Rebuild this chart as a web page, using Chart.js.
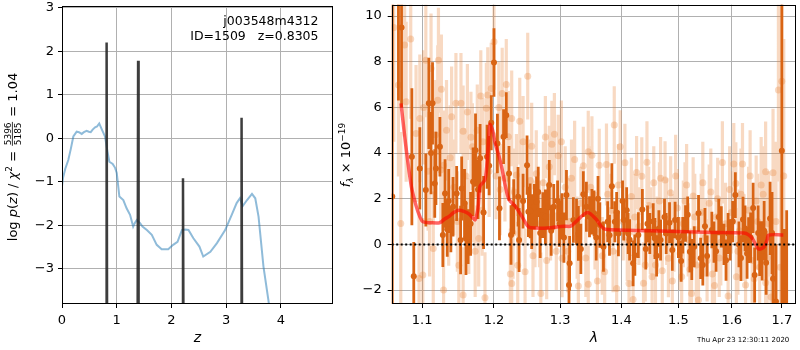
<!DOCTYPE html>
<html>
<head>
<meta charset="utf-8">
<script src="https://cdn.jsdelivr.net/npm/chart.js@4.4.1/dist/chart.umd.min.js"></script>
<style>
  html, body { margin: 0; padding: 0; background: #fff; }
  #wrap { position: relative; width: 800px; height: 350px; }
  #pz { position: absolute; left: 0; top: 0; }
  #spec { position: absolute; left: 335px; top: 0; }
</style>
</head>
<body>
<div id="wrap">
  <canvas id="pz" width="335" height="350" style="width:335px;height:350px"></canvas>
  <canvas id="spec" width="465" height="350" style="width:465px;height:350px"></canvas>
</div>
<script>
// ---- left panel: redshift probability ----
const pzZ = [0, 0.02, 0.06, 0.115, 0.16, 0.207, 0.268, 0.31, 0.36, 0.40,
  0.45, 0.49, 0.525, 0.56, 0.604, 0.64, 0.68, 0.725, 0.786, 0.83,
  0.865, 0.926, 0.97, 1.0, 1.048, 1.12, 1.18, 1.243, 1.30, 1.33,
  1.366, 1.40, 1.426, 1.47, 1.55, 1.64, 1.73, 1.82, 1.94, 2.03,
  2.11, 2.19, 2.25, 2.31, 2.40, 2.51, 2.58, 2.71, 2.83, 2.98,
  3.10, 3.19, 3.25, 3.30, 3.38, 3.47, 3.53, 3.59, 3.68, 3.77, 3.85];
const pzLog = [-1.1, -0.9, -0.7, -0.5, -0.25, 0.04, 0.15, 0.14, 0.10, 0.14,
  0.17, 0.15, 0.14, 0.2, 0.25, 0.27, 0.34, 0.21, 0.04, -0.3,
  -0.54, -0.59, -0.68, -0.80, -1.34, -1.42, -1.61, -1.76, -2.03, -1.95,
  -1.88, -1.92, -1.95, -2.03, -2.11, -2.22, -2.45, -2.55, -2.55, -2.45,
  -2.38, -2.11, -2.10, -2.11, -2.30, -2.49, -2.72, -2.61, -2.41, -2.11,
  -1.76, -1.49, -1.38, -1.56, -1.42, -1.28, -1.38, -1.80, -2.95, -3.72, -4.5];
// narrow peaks of the fit p(z)
const spikeZ = [0.815, 1.39, 2.21, 3.28];
const spikePeak = [2.20, 1.78, -0.92, 0.47];
const zTicks = [0, 1, 2, 3, 4];
const logTicks = [-3, -2, -1, 0, 1, 2, 3];

// ---- right panel: spectrum ----
const darkWave = [1.061, 1.069, 1.073, 1.0865, 1.089, 1.097, 1.105, 1.109, 1.114, 1.117,
  1.124, 1.128, 1.131, 1.134, 1.139, 1.142, 1.147, 1.154, 1.160, 1.163,
  1.170, 1.1735, 1.177, 1.180, 1.185, 1.190, 1.193, 1.196, 1.200, 1.205,
  1.208, 1.214, 1.218, 1.222, 1.225, 1.229, 1.237, 1.243, 1.249, 1.251,
  1.256, 1.260, 1.266, 1.273, 1.277, 1.281, 1.286, 1.290, 1.296, 1.303,
  1.310, 1.314, 1.315, 1.321, 1.329, 1.337, 1.342, 1.347, 1.351, 1.358,
  1.364, 1.370, 1.377, 1.384, 1.389, 1.395, 1.402, 1.409, 1.414, 1.420,
  1.423, 1.429, 1.436, 1.442, 1.449, 1.455, 1.461, 1.468, 1.475, 1.484,
  1.489, 1.494, 1.500, 1.505, 1.513, 1.521, 1.529, 1.537, 1.545, 1.553,
  1.562, 1.570, 1.580, 1.589, 1.597, 1.607, 1.614, 1.622, 1.630, 1.637,
  1.645, 1.652, 1.660, 1.668, 1.676, 1.682, 1.688, 1.700, 1.705, 1.710,
  // in-between points
  1.1186, 1.1525, 1.1665, 1.112, 1.136, 1.158, 1.2355, 1.2537, 1.2635, 1.299,
  1.326, 1.3545, 1.404, 1.4115, 1.445, 1.458, 1.478, 1.5245, 1.541, 1.566,
  1.593, 1.633, 1.655, 1.680, 1.465, 1.508, 1.517, 1.549, 1.575, 1.585,
  1.602, 1.618, 1.626, 1.642, 1.664, 1.392, 1.380, 1.361, 1.333, 1.306,
  1.269, 1.283];
const darkFlux = [2.1, 10.8, 9.5, 3.84, -1.39, 3.33, 2.38, 6.18, 6.18, 2.67,
  4.28, 0.41, 2.23, 0.66, 0.66, 1.65, 2.23, 2.45, 0.26, 0.34,
  2.74, 4.13, 2.41, 3.77, 1.40, 3.84, 3.45, 5.33, 7.97, 4.42,
  1.58, 4.72, 5.66, 3.11, 0.41, 1.65, 0.19, 1.9, 3.47, 1.43,
  1.0, 1.65, 2.3, 1.28, 1.21, 1.65, 0.6, 1.65, 1.9, 1.24,
  2.16, -1.78, -0.83, 1.07, 0.48, 2.20, 1.65, 1.21, 1.43, 0.3,
  0.85, -0.1, 0.99, 2.55, 0.99, 0.48, 1.9, 1.50, 0.2, -0.83,
  -0.47, 0.41, 1.53, -0.2, 0.48, 1.0, -0.5, 0.19, 1.2, 0.95,
  -0.25, 1.07, 0.3, -0.73, 0.92, -0.32, -0.1, 1.36, -0.9, -0.51,
  0.63, -0.3, 0.77, -0.69, 0.2, 2.16, 0.0, 1.09, -0.4, 0.3,
  -1.34, 0.5, -0.28, -0.8, 1.14, -1.5, -2.5, 4.1, -1.82, -3.5,
  3.33, 0.19, 0.9, 4.0, 1.9, 1.8, 2.09, 1.47, 1.87, 0.9,
  0.99, 1.36, 1.07, 0.48, 0.9, 0.26, 0.48, -0.66, -0.61, 0.1,
  0.48, 0.19, -0.18, 0.5, 0.7, 0.4, 1.3, 0.8, 1.2, 0.0,
  1.0, -0.6, 0.7, 1.6, 0.6, 1.4, 0.4, 2.0, -0.2, 0.3,
  0.5, 2.6];
const darkErr = [12, 4.5, 3.5, 3.0, 1.5, 1.8, 1.6, 2.0, 1.8, 1.5,
  1.3, 1.4, 1.5, 1.2, 1.0, 1.3, 1.2, 1.4, 1.6, 1.2,
  1.5, 1.6, 1.3, 1.5, 1.6, 1.4, 1.3, 1.2, 1.5, 1.3,
  1.4, 1.2, 1.0, 1.2, 1.3, 1.2, 1.4, 1.2, 1.3, 1.1,
  1.2, 1.0, 1.1, 1.0, 1.2, 1.0, 1.1, 1.0, 0.9, 1.0,
  1.1, 1.3, 1.2, 1.0, 1.2, 1.0, 1.1, 0.9, 1.0, 1.0,
  1.0, 1.1, 0.9, 1.0, 0.9, 1.0, 0.9, 1.0, 0.9, 1.0,
  0.9, 1.0, 0.9, 0.9, 0.9, 0.8, 0.9, 0.9, 0.8, 0.9,
  0.9, 0.8, 0.9, 0.9, 0.8, 0.9, 0.9, 0.8, 0.9, 0.9,
  0.8, 0.9, 0.9, 0.9, 0.9, 1.0, 1.0, 1.0, 1.1, 1.1,
  1.2, 1.2, 1.3, 1.4, 1.6, 2.0, 2.5, 7, 2.5, 5,
  1.6, 1.5, 1.4, 1.8, 1.4, 1.5, 1.3, 1.2, 1.1, 1.0,
  1.0, 1.0, 0.9, 0.9, 0.8, 0.9, 0.9, 0.9, 0.9, 0.9,
  0.9, 1.0, 1.2, 1.8, 0.8, 0.8, 0.8, 0.8, 0.8, 0.9,
  0.9, 1.0, 1.0, 1.1, 1.3, 0.9, 0.9, 1.0, 1.1, 1.1,
  1.1, 1.1];

const lightWave = [1.063, 1.069, 1.072, 1.077, 1.079, 1.085, 1.092, 1.096, 1.097, 1.101,
  1.105, 1.108, 1.112, 1.115, 1.118, 1.121, 1.122, 1.125, 1.129, 1.129,
  1.133, 1.136, 1.140, 1.143, 1.146, 1.150, 1.153, 1.156, 1.156, 1.160,
  1.164, 1.167, 1.169, 1.173, 1.178, 1.181, 1.184, 1.187, 1.189, 1.191,
  1.196, 1.200, 1.203, 1.207, 1.212, 1.216, 1.221, 1.224, 1.226, 1.226,
  1.230, 1.233, 1.235, 1.240, 1.246, 1.250, 1.254, 1.258, 1.263, 1.270,
  1.274, 1.279, 1.283, 1.287, 1.291, 1.294, 1.297, 1.302, 1.303, 1.308,
  1.312, 1.318, 1.323, 1.329, 1.333, 1.337, 1.341, 1.345, 1.345, 1.351,
  1.356, 1.363, 1.368, 1.372, 1.377, 1.383, 1.388, 1.392, 1.398, 1.403,
  1.406, 1.413, 1.417, 1.420, 1.426, 1.430, 1.435, 1.441, 1.447, 1.453,
  1.456, 1.462, 1.466, 1.471, 1.476, 1.482, 1.486, 1.492, 1.498, 1.503,
  1.506, 1.512, 1.518, 1.524, 1.527, 1.533, 1.537, 1.542, 1.550, 1.557,
  1.563, 1.570, 1.576, 1.582, 1.588, 1.593, 1.599, 1.604, 1.608, 1.609,
  1.615, 1.621, 1.627, 1.633, 1.640, 1.648, 1.655, 1.662, 1.667, 1.667,
  1.673, 1.678, 1.682, 1.688, 1.693, 1.697, 1.700, 1.704,
  // in-between points
  1.243, 1.268, 1.285, 1.299, 1.315, 1.327, 1.349, 1.360, 1.375, 1.386,
  1.395, 1.410, 1.423, 1.438, 1.444, 1.450, 1.459, 1.468, 1.479, 1.489,
  1.495, 1.509, 1.515, 1.521, 1.530, 1.545, 1.553, 1.560, 1.567, 1.573,
  1.579, 1.596, 1.612, 1.618, 1.624, 1.636, 1.644, 1.651, 1.658, 1.670,
  1.102, 1.110, 1.126, 1.138, 1.148, 1.162, 1.171, 1.176, 1.183, 1.193,
  1.209, 1.218, 1.228, 1.238, 1.256, 1.261, 1.277];
const lightFlux = [9.5, 6.98, 0.92, 8.73, 6.25, 9.0, 4.86, -1.49, 5.52, -1.34,
  8.07, 3.2, 7.71, -0.18, 4.8, 6.32, 8.07, 3.26, 3.47, -2.0,
  5.0, 1.36, 5.59, 2.5, 6.18, -0.91, 6.18, 4.96, -2.22, 3.0,
  0.8, 4.69, 4.28, -0.3, 0.26, 6.50, 4.5, -2.34, 5.96, 6.54,
  6.83, 8.88, 3.0, 6.0, 6.61, 2.9, 4.72, -1.30, 5.52, -1.71,
  2.3, 3.04, -0.91, 2.0, -1.20, 7.37, 2.8, -0.5, 3.1, -2.15,
  2.7, -0.7, 3.4, 4.39, 4.83, -0.3, 3.88, 4.50, -0.61, 2.5,
  -0.3, 2.9, 3.72, -1.82, 1.8, 3.45, -0.6, 4.06, -1.74, 3.91,
  0.6, 3.47, -0.5, -1.20, 2.2, 1.5, 5.23, -1.93, 4.28, 1.0,
  3.58, -1.71, 2.1, -2.41, 3.15, 0.8, 2.99, -0.9, 1.7, -1.42,
  2.70, 0.4, 1.9, -1.15, 2.82, -0.61, 2.26, 0.5, 1.6, -0.4,
  -1.42, 1.9, 0.2, -2.15, 2.12, -0.9, -2.44, 1.4, 0.3, 1.80,
  -1.3, 1.2, -0.6, 3.59, 0.9, -2.26, 1.4, 3.52, 2.67, -1.42,
  0.6, 3.52, -1.78, 1.5, -0.7, 1.9, -1.0, 2.20, 3.18, -1.68,
  0.9, -2.3, 3.14, 1.0, 6.76, -1.0, 7.15, 3.0,
  4.5, 0.9, 1.2, 2.0, 1.0, 0.3, 2.5, -1.6, 3.5, -0.3,
  2.6, 0.2, 1.2, -1.7, 3.6, 0.6, -0.9, 2.9, 1.0, -1.6,
  3.0, 0.9, 2.6, -1.1, 1.2, 2.7, -0.7, 2.3, -1.8, 2.0,
  0.1, 2.4, -0.3, 2.2, 0.3, 3.0, -1.5, 1.0, 2.6, -0.6,
  6.0, 1.0, 6.8, 3.8, 1.0, 5.8, 2.2, 5.0, 1.5, 3.2,
  2.4, 7.0, 0.5, 5.4, 4.3, 0.9, 4.7];
const lightErr = [5, 4, 4, 4, 3.5, 3.5, 3, 3, 2.8, 2.5,
  2.5, 2.6, 2.4, 2.5, 2.4, 2.4, 2.3, 2.3, 2.4, 2.3,
  2.2, 2.3, 2.2, 2.1, 2.2, 2.1, 2.2, 2.0, 2.1, 2.1,
  2.1, 2.0, 1.9, 2.0, 2.1, 2.0, 1.9, 2.0, 2.0, 2.1,
  2.0, 2.1, 1.9, 2.0, 2.0, 1.9, 2.0, 2.0, 2.1, 1.9,
  1.9, 1.8, 1.9, 2.0, 1.9, 1.9, 1.8, 1.8, 1.9, 1.8,
  1.8, 1.7, 1.8, 1.9, 1.8, 1.7, 1.8, 1.8, 1.7, 1.8,
  1.8, 1.7, 1.7, 1.8, 1.6, 1.7, 1.7, 1.8, 1.7, 1.7,
  1.7, 1.6, 1.7, 1.7, 1.8, 1.6, 1.7, 1.7, 1.6, 1.7,
  1.7, 1.6, 1.7, 1.7, 1.6, 1.7, 1.7, 1.6, 1.7, 1.7,
  1.6, 1.7, 1.7, 1.6, 1.7, 1.7, 1.6, 1.7, 1.7, 1.6,
  1.7, 1.7, 1.6, 1.7, 1.7, 1.7, 1.6, 1.7, 1.7, 1.7,
  1.7, 1.7, 1.7, 1.8, 1.8, 1.8, 1.8, 1.8, 1.8, 1.8,
  1.8, 1.8, 1.9, 1.9, 1.9, 2.0, 2.0, 2.1, 2.2, 2.2,
  2.3, 2.5, 2.8, 3.5, 4, 5, 6, 6,
  2.0, 1.9, 1.9, 1.8, 1.9, 1.8, 1.8, 1.9, 1.8, 1.8,
  1.8, 1.8, 1.9, 1.8, 1.8, 1.9, 1.8, 1.8, 1.9, 1.8,
  1.8, 1.9, 1.8, 1.8, 1.9, 1.8, 1.8, 1.9, 1.8, 1.8,
  1.9, 1.9, 1.9, 2.0, 1.9, 2.0, 2.0, 2.1, 2.1, 2.2,
  2.5, 2.4, 2.4, 2.3, 2.2, 2.1, 2.1, 2.0, 2.0, 2.0,
  2.0, 2.0, 2.0, 1.9, 1.9, 1.9, 1.8];

// smoothed model
const modelWave = [1.0723, 1.079, 1.0859, 1.092, 1.0971, 1.1012, 1.112, 1.1237, 1.130, 1.137,
  1.143, 1.150, 1.157, 1.164, 1.170, 1.173, 1.177, 1.180, 1.187, 1.191,
  1.194, 1.198, 1.2015, 1.207, 1.212, 1.217, 1.222, 1.231, 1.241, 1.250,
  1.255, 1.280, 1.306, 1.317, 1.329, 1.344, 1.358, 1.366, 1.373, 1.45,
  1.55, 1.624, 1.633, 1.641, 1.653, 1.664, 1.670, 1.673, 1.703];
const modelFlux = [6.18, 4.2, 2.52, 1.7, 1.21, 0.99, 0.95, 0.95, 1.1, 1.24,
  1.4, 1.5, 1.45, 1.34, 1.15, 1.08, 1.6, 2.55, 2.84, 4.0,
  5.25, 5.0, 4.45, 3.9, 3.28, 2.5, 1.97, 1.68, 1.24, 0.80,
  0.73, 0.72, 0.80, 0.80, 1.1, 1.4, 1.1, 0.8, 0.66, 0.6,
  0.53, 0.5, 0.42, 0.24, -0.2, -0.1, 0.2, 0.41, 0.41];

const lamTicks = [1.1, 1.2, 1.3, 1.4, 1.5, 1.6, 1.7];
const fluxTicks = [-2, 0, 2, 4, 6, 8, 10];

Chart.defaults.font.family = "'DejaVu Sans'";
Chart.defaults.font.size = 13;
Chart.defaults.color = '#000';

const GRID = '#b0b0b0';
const DARK = 'rgb(217,100,20)';
const LIGHT = 'rgba(232,128,52,0.3)';
const fmt = v => (v < 0 ? '\u2212' + Math.abs(v) : String(v));

function errorSegments(w, f, e) {
  const pts = [];
  w.forEach((x, i) => {
    pts.push({ x: x, y: f[i] - e[i] }, { x: x, y: f[i] + e[i] }, { x: x, y: null });
  });
  return pts;
}

function spikeLine() {
  const pts = [];
  spikeZ.forEach((z, i) => {
    pts.push({ x: z - 0.009, y: -4.6 }, { x: z, y: spikePeak[i] }, { x: z + 0.009, y: -4.6 }, { x: z, y: null });
  });
  return pts;
}

// keep the plot area where it is: no extra room for tick labels
function fixY(width) {
  return s => { s.width = width; s.paddingTop = 0; s.paddingBottom = 0; };
}
function fixX(height) {
  return s => { s.height = height; s.paddingLeft = 0; s.paddingRight = 0; };
}

// text pieces drawn rotated (axis labels with math)
function drawRuns(ctx, runs, x, y) {
  ctx.save();
  ctx.translate(x, y);
  ctx.rotate(-Math.PI / 2);
  ctx.fillStyle = '#000';
  ctx.strokeStyle = '#000';
  ctx.textBaseline = 'alphabetic';
  let total = 0;
  runs.forEach(r => {
    ctx.font = r.f;
    r.w = r.frac ? Math.max(ctx.measureText(r.frac[0]).width, ctx.measureText(r.frac[1]).width) + 3
                 : ctx.measureText(r.t).width;
    total += r.w;
  });
  let cx = -total / 2;
  runs.forEach(r => {
    ctx.font = r.f;
    if (r.frac) {
      ctx.textAlign = 'center';
      ctx.fillText(r.frac[0], cx + r.w / 2, -6.5);
      ctx.fillText(r.frac[1], cx + r.w / 2, 3.5);
      ctx.lineWidth = 0.8;
      ctx.beginPath();
      ctx.moveTo(cx + 1, -4.6);
      ctx.lineTo(cx + r.w - 1, -4.6);
      ctx.stroke();
    } else {
      ctx.textAlign = 'left';
      ctx.fillText(r.t, cx, r.dy || 0);
    }
    cx += r.w;
  });
  ctx.restore();
}

function frame(chart) {
  const a = chart.chartArea, ctx = chart.ctx;
  ctx.save();
  ctx.strokeStyle = '#000';
  ctx.lineWidth = 1;
  ctx.strokeRect(Math.round(a.left) + 0.5, Math.round(a.top) + 0.5,
    Math.round(a.right - a.left) - 1, Math.round(a.bottom - a.top) - 1);
  ctx.restore();
}

const R = "13px 'DejaVu Sans'", I = "italic 13px 'DejaVu Sans'", S = "9px 'DejaVu Sans'";

const pzDecor = {
  id: 'pzDecor',
  afterDraw(chart) {
    frame(chart);
    const ctx = chart.ctx;
    ctx.save();
    ctx.fillStyle = '#000';
    ctx.font = "12.5px 'DejaVu Sans'";
    ctx.textAlign = 'right';
    ctx.textBaseline = 'middle';
    ctx.fillText('j003548m4312', 318.5, 22);
    ctx.fillText('ID=1509   z=0.8305', 318.5, 37);
    ctx.restore();
    drawRuns(ctx, [
      { t: 'log ', f: R }, { t: 'p', f: I }, { t: '(', f: R }, { t: 'z', f: I }, { t: ') / ', f: R },
      { t: '\u03c7', f: I }, { t: '2', f: S, dy: -5 }, { t: ' = ', f: R },
      { frac: ['5396', '5185'], f: S }, { t: ' = 1.04', f: R }
    ], 17, 157);
  }
};

new Chart(document.getElementById('pz'), {
  type: 'line',
  data: {
    datasets: [
      { data: spikeLine(), borderColor: 'rgba(40,40,40,0.9)', borderWidth: 2.5, pointRadius: 0, spanGaps: false, clip: 0 },
      { data: pzZ.map((z, i) => ({ x: z, y: pzLog[i] })), borderColor: 'rgba(31,119,180,0.5)', borderWidth: 2, pointRadius: 0, clip: 0 }
    ]
  },
  options: {
    responsive: false,
    animation: false,
    events: [],
    layout: { padding: { left: 0, top: 6, right: 2, bottom: 0 } },
    plugins: { legend: { display: false }, tooltip: { enabled: false } },
    scales: {
      x: {
        type: 'linear', min: 0, max: 4.95,
        afterBuildTicks: s => { s.ticks = zTicks.map(v => ({ value: v })); },
        afterFit: fixX(46),
        grid: { color: GRID, lineWidth: 1, tickLength: 4, tickColor: '#000' },
        border: { display: false },
        ticks: { padding: 5, callback: v => fmt(v) },
        title: { display: true, text: 'z', font: { size: 14, style: 'italic' }, padding: { top: 2, bottom: 3 } }
      },
      y: {
        type: 'linear', min: -3.81, max: 3.04,
        afterBuildTicks: s => { s.ticks = logTicks.map(v => ({ value: v })); },
        afterFit: fixY(62),
        grid: { color: GRID, lineWidth: 1, tickLength: 4, tickColor: '#000' },
        border: { display: false },
        ticks: { padding: 4, callback: v => fmt(v) }
      }
    }
  },
  plugins: [pzDecor]
});

const specDecor = {
  id: 'specDecor',
  afterDraw(chart) {
    frame(chart);
    const ctx = chart.ctx;
    drawRuns(ctx, [
      { t: 'f', f: I }, { t: '\u03bb', f: "italic 9px 'DejaVu Sans'", dy: 3 },
      { t: ' \u00d7 10', f: R }, { t: '\u221219', f: S, dy: -5 }
    ], 15, 155);
    ctx.save();
    ctx.fillStyle = '#000';
    ctx.font = "7px 'DejaVu Sans'";
    ctx.textAlign = 'left';
    ctx.textBaseline = 'middle';
    ctx.fillText('Thu Apr 23 12:30:11 2020', 362, 340);
    ctx.restore();
  }
};

new Chart(document.getElementById('spec'), {
  type: 'line',
  data: {
    datasets: [
      { data: [{ x: 1.0603, y: 0 }, { x: 1.7294, y: 0 }], borderColor: '#000', borderWidth: 2, borderDash: [2, 2.5], pointRadius: 0, clip: 0 },
      { data: modelWave.map((w, i) => ({ x: w, y: modelFlux[i] })), borderColor: 'rgba(255,0,0,0.6)', borderWidth: 3.5, pointRadius: 0, tension: 0.3, clip: 0 },
      { data: darkWave.map((w, i) => ({ x: w, y: darkFlux[i] })), showLine: false, pointRadius: 3, pointBackgroundColor: DARK, pointBorderWidth: 0, clip: 0 },
      { data: errorSegments(darkWave, darkFlux, darkErr), borderColor: DARK, borderWidth: 2.8, pointRadius: 0, spanGaps: false, clip: 0 },
      { data: lightWave.map((w, i) => ({ x: w, y: lightFlux[i] })), showLine: false, pointRadius: 3.5, pointBackgroundColor: LIGHT, pointBorderWidth: 0, clip: 0 },
      { data: errorSegments(lightWave, lightFlux, lightErr), borderColor: LIGHT, borderWidth: 3.2, pointRadius: 0, spanGaps: false, clip: 0 }
    ]
  },
  options: {
    responsive: false,
    animation: false,
    events: [],
    layout: { padding: { left: 0, top: 4.7, right: 0.7, bottom: 0 } },
    plugins: { legend: { display: false }, tooltip: { enabled: false } },
    scales: {
      x: {
        type: 'logarithmic', min: 1.0603, max: 1.7294,
        afterBuildTicks: s => { s.ticks = lamTicks.map(v => ({ value: v })); },
        afterFit: fixX(46),
        grid: { color: GRID, lineWidth: 1, tickLength: 4, tickColor: '#000' },
        border: { display: false },
        ticks: { padding: 5, autoSkip: false, maxRotation: 0, callback: v => Number(v).toFixed(1) },
        title: { display: true, text: '\u03bb', font: { size: 14, style: 'italic' }, padding: { top: 2, bottom: 3 } }
      },
      y: {
        type: 'linear', min: -2.61, max: 10.5,
        afterBuildTicks: s => { s.ticks = fluxTicks.map(v => ({ value: v })); },
        afterFit: fixY(56.7),
        grid: { color: GRID, lineWidth: 1, tickLength: 4, tickColor: '#000' },
        border: { display: false },
        ticks: { padding: 6, callback: v => fmt(v) }
      }
    }
  },
  plugins: [specDecor]
});
</script>
</body>
</html>
